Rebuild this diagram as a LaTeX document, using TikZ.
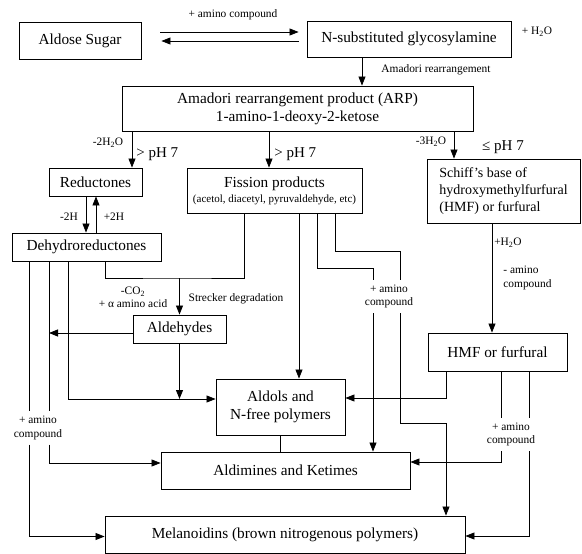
\documentclass[tikz,border=0pt]{standalone}
\usepackage{fontspec}
\setmainfont{Liberation Serif}
\usetikzlibrary{arrows.meta}
\tikzset{
  box/.style={draw,line width=0.9pt,font=\fontsize{15.3}{18}\selectfont,align=center,inner sep=2pt},
  lbl/.style={font=\fontsize{11.4}{13.5}\selectfont,inner sep=1pt},
  amlbl/.style={lbl,align=center,inner xsep=3pt,inner ysep=4.5pt},
  ph/.style={font=\fontsize{15}{16}\selectfont,inner sep=1pt},
  arr/.style={-{Triangle[length=9pt,width=7pt]}}
}
\begin{document}
\begin{tikzpicture}[x=1pt,y=-1pt,line width=0.8pt]
\useasboundingbox (0,0) rectangle (582,554);
% boxes
\node[box,minimum width=122pt,minimum height=37pt] (sugar) at (80,40.5) {Aldose Sugar};
\node[box,minimum width=204pt,minimum height=36pt] (glyco) at (409,39) {N-substituted glycosylamine};
\node[box,minimum width=351pt,minimum height=45pt] (arp) at (297.5,108.5) {Amadori rearrangement product (ARP)\\1-amino-1-deoxy-2-ketose};
\node[box,minimum width=93pt,minimum height=28pt] (reduc) at (95.5,182) {Reductones};
\node[box,minimum width=175pt,minimum height=45pt] (fission) at (274.5,190.5) {Fission products\\[-3pt]{\fontsize{11}{12}\selectfont (acetol, diacetyl, pyruvaldehyde, etc)}};
\node[box,align=left,minimum width=153pt,minimum height=64pt,font=\fontsize{14}{17}\selectfont] (schiff) at (503.5,191) {Schiff’s base of\\hydroxymethylfurfural\\(HMF) or furfural};
\node[box,minimum width=149pt,minimum height=28pt] (dehydro) at (86.5,247) {Dehydroreductones};
\node[box,minimum width=93pt,minimum height=28pt] (aldeh) at (179.5,329) {Aldehydes};
\node[box,minimum width=139pt,minimum height=38pt] (hmf) at (497.5,352) {HMF or furfural};
\node[box,minimum width=129pt,minimum height=56pt] (aldols) at (280.5,407) {Aldols and\\N-free polymers};
\node[box,minimum width=249pt,minimum height=37pt] (aldim) at (285.5,470.5) {Aldimines and Ketimes};
\node[box,minimum width=360pt,minimum height=37pt] (melan) at (285,534.5) {Melanoidins (brown nitrogenous polymers)};
% labels that break the lines
\node[amlbl] (amL) at (38,428) {+ amino\\compound};
\node[amlbl] (amM) at (389,296.5) {+ amino\\compound};
\node[amlbl] (amR) at (511,434.5) {+ amino\\compound};
% top
\draw[arr,shorten <=19pt,shorten >=8pt] ([yshift=8.5pt]sugar.east) -- ([yshift=8.5pt]sugar.east -| glyco.west);
\draw[arr,shorten <=8pt,shorten >=20pt] ([yshift=-0.5pt]sugar.east -| glyco.west) -- ([yshift=-0.5pt]sugar.east);
\node[lbl] at (233,15) {+ amino compound};
\node[lbl] at (537,32) {+ H\textsubscript{2}O};
\draw[arr] ([xshift=-47pt]glyco.south) -- ([xshift=-47pt]glyco.south |- arp.north);
\node[lbl,anchor=west] at (380,70) {Amadori rearrangement};
% out of the ARP
\draw[arr] (arp.south -| 132,0) -- (reduc.north -| 132,0);
\node[lbl] at (108,143) {-2H\textsubscript{2}O};
\node[ph,anchor=west] at (135,154) {> pH 7};
\draw[arr] (arp.south -| 269,0) -- (fission.north -| 269,0);
\node[ph,anchor=west] at (273,154) {> pH 7};
\draw[arr] (arp.south -| 454,0) -- (schiff.north -| 454,0);
\node[lbl] at (431,142) {-3H\textsubscript{2}O};
\node[ph] at (503,147) {≤ pH 7};
% reductones
\draw[arr] (reduc.south -| 86,0) -- (dehydro.north -| 86,0);
\draw[arr] (dehydro.north -| 96,0) -- (reduc.south -| 96,0);
\node[lbl] at (69,217) {-2H};
\node[lbl] at (114,217) {+2H};
% Strecker degradation
\coordinate (strk) at (179.5,278);
\draw (dehydro.south -| 105,0) |- (strk) -| (fission.south -| 244,0);
\draw[arr] (strk) -- (aldeh.north);
\node[lbl] at (133,292) {-CO\textsubscript{2}};
\node[lbl] at (133,304) {+ α amino acid};
\node[lbl] at (236,299) {Strecker degradation};
\draw[arr] ([yshift=-4pt]aldeh.west) -- ([yshift=-4pt]aldeh.west -| 49,0);
% dehydroreductones down
\draw[arr] (dehydro.south -| 68,0) |- ([yshift=8pt]aldols.west);
\draw[arr] (aldeh.south) -- (aldeh.south |- 0,399);
\draw (dehydro.south -| 49,0) -- (amL.north -| 49,0);
\draw[arr] (amL.south -| 49,0) |- ([yshift=7.5pt]aldim.west);
\draw (dehydro.south -| 29,0) -- (amL.north -| 29,0);
\draw[arr] (amL.south -| 29,0) |- ([yshift=-2pt]melan.west);
% fission products down
\draw[arr] (fission.south -| 299,0) -- (aldols.north -| 299,0);
\draw (fission.south -| 317,0) -- ++(0,55) -| (amM.north -| 373,0);
\draw[arr] (amM.south -| 373,0) -- (aldim.north -| 373,0);
\draw (fission.south -| 335,0) -- ++(0,38) -| (amM.north -| 400,0);
\draw[arr] (amM.south -| 400,0) -- ++(0,110) -| (melan.north -| 446,0);
% HMF side
\draw[arr] (schiff.south -| 492,0) -- (hmf.north -| 492,0);
\node[lbl] at (508,243) {+H\textsubscript{2}O};
\node[lbl,align=left,anchor=west] at (502,278) {- amino\\compound};
\draw[arr] (hmf.south -| 446,0) |- ([yshift=9pt]aldols.east);
\draw (hmf.south -| 501,0) -- (amR.north -| 501,0);
\draw[arr] (amR.south -| 501,0) |- ([yshift=8.5pt]aldim.east);
\draw (hmf.south -| 529,0) -- (amR.north -| 529,0);
\draw[arr] (amR.south -| 529,0) |- ([yshift=-1.5pt]melan.east);
\draw (aldols.south) -- (aldols.south |- aldim.north);
\end{tikzpicture}
\end{document}
